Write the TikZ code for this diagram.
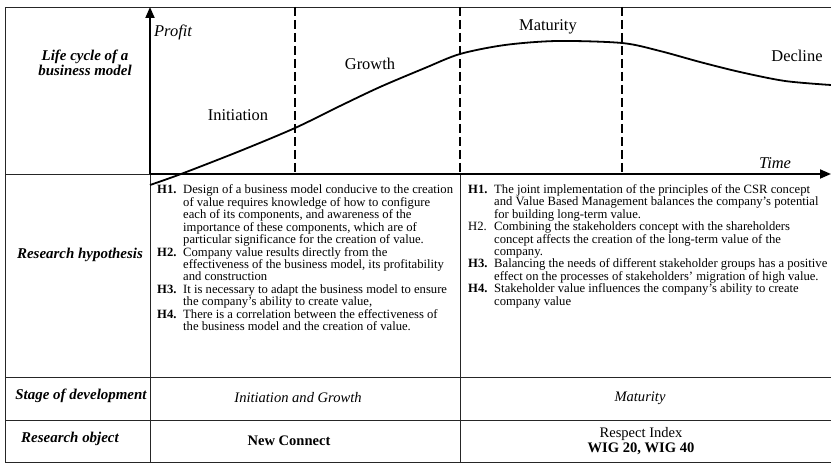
\documentclass[tikz,border=0pt]{standalone}
\usepackage{fontspec}
\setmainfont{Liberation Serif}
\usetikzlibrary{arrows.meta}
\tikzset{
  tbl/.style={line width=0.8bp, draw=black!85},
  axisline/.style={line width=1.8bp, -{Triangle[length=11bp,width=9bp]}},
  dashv/.style={line width=1.3bp, dash pattern=on 9bp off 4bp},
  lifecurve/.style={line width=1.8bp},
  chartlab/.style={font=\fontsize{16.5}{18}\selectfont, inner sep=0},
  rowlab/.style={font=\fontsize{15}{15}\selectfont\bfseries\itshape, inner sep=0, align=center},
  hyptext/.style={font=\fontsize{12.7}{12}\selectfont, inner sep=0, anchor=north west},
  celltext/.style={font=\fontsize{14.6}{15}\selectfont, inner sep=0, align=center}
}
\begin{document}
\begin{tikzpicture}[x=1bp,y=-1bp]
\useasboundingbox (0,0) rectangle (831,463);
% frame and table lines
\draw[tbl] (831,7) -- (5,7) -- (5,462) -- (831,462);
\draw[tbl] (5,174) -- (150,174);
\draw[tbl] (150,174) -- (150,462);
\draw[tbl] (460,174) -- (460,462);
\draw[tbl] (5,377) -- (831,377);
\draw[tbl] (5,420) -- (831,420);
% dashed stage borders
\draw[dashv] (295,7) -- (295,174);
\draw[dashv] (460,7) -- (460,174);
\draw[dashv] (622,7) -- (622,174);
% axes
\coordinate (origin) at (150,174);
\coordinate (ytip) at (150,7);
\coordinate (xtip) at (831,174);
\draw[axisline] (origin) -- (ytip);
\draw[axisline] (origin) -- (xtip);
% life cycle curve
\draw[lifecurve] plot[smooth, tension=0.5] coordinates {(150,185) (181,174) (240,151) (295,128) (340,106) (380,87) (425,68) (460,54) (505,45) (557,41) (622,43) (660,51) (700,62) (740,72) (785,81) (831,85)};
% chart labels
\node[chartlab, font=\fontsize{16.5}{18}\selectfont\itshape, anchor=west] (profit) at (154,32) {Profit};
\node[chartlab] (initiation) at (238,115) {Initiation};
\node[chartlab] (growth) at (370,64) {Growth};
\node[chartlab] (maturity) at (548,27) {Maturity};
\node[chartlab] (decline) at (797,56) {Decline};
\node[chartlab, font=\fontsize{16.5}{18}\selectfont\itshape] (time) at (775,163) {Time};
% row labels
\node[rowlab, font=\fontsize{15}{15.5}\selectfont\bfseries\itshape] (lcl) at (85,63) {Life cycle of a\\business model};
\node[rowlab] (rhl) at (80,255) {Research hypothesis};
\node[rowlab] (sdl) at (81,396) {Stage of development};
\node[rowlab] (rol) at (70,439) {Research object};
% hypotheses
\node[hyptext] (hypl) at (157,184.5) {\begin{tabular}{@{}p{26bp}@{}l@{}}
\textbf{H1.} & Design of a business model conducive to the creation\\
 & of value requires knowledge of how to configure\\
 & each of its components, and awareness of the\\
 & importance of these components, which are of\\
 & particular significance for the creation of value.\\
\textbf{H2.} & Company value results directly from the\\
 & effectiveness of the business model, its profitability\\
 & and construction\\
\textbf{H3.} & It is necessary to adapt the business model to ensure\\
 & the company's ability to create value,\\
\textbf{H4.} & There is a correlation between the effectiveness of\\
 & the business model and the creation of value.
\end{tabular}};
\node[hyptext] (hypr) at (468,184.5) {\begin{tabular}{@{}p{26bp}@{}l@{}}
\textbf{H1.} & The joint implementation of the principles of the CSR concept\\
 & and Value Based Management balances the company’s potential\\
 & for building long-term value.\\
H2. & Combining the stakeholders concept with the shareholders\\
 & concept affects the creation of the long-term value of the\\
 & company.\\
\textbf{H3.} & Balancing the needs of different stakeholder groups has a positive\\
 & effect on the processes of stakeholders’ migration of high value.\\
\textbf{H4.} & Stakeholder value influences the company’s ability to create\\
 & company value
\end{tabular}};
% stage and object cells
\node[celltext, font=\fontsize{14.6}{15}\selectfont\itshape] (stl) at (298,398) {Initiation and Growth};
\node[celltext, font=\fontsize{14.6}{15}\selectfont\itshape] (str) at (640,398) {Maturity};
\node[celltext, font=\fontsize{14.6}{15}\selectfont\bfseries] (objl) at (289,441) {New Connect};
\node[celltext] (objr) at (641,441) {Respect Index\\\textbf{WIG 20, WIG 40}};
\end{tikzpicture}
\end{document}
